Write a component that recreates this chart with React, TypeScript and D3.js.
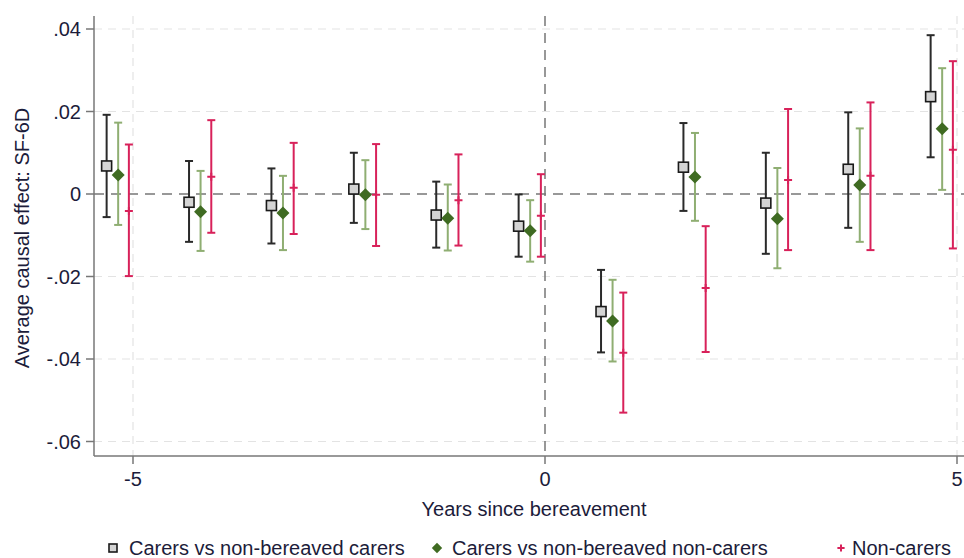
import React from "react";
import * as d3 from "d3";

const years = [-5, -4, -3, -2, -1, 0, 1, 2, 3, 4, 5];
const seriesNames = ["Carers vs non-bereaved carers", "Carers vs non-bereaved non-carers", "Non-carers"];
const offsets = [-0.32, -0.18, -0.05];

const carersEst = [0.0068, -0.002, -0.0028, 0.0012, -0.0051, -0.0078, -0.0285, 0.0065, -0.0022, 0.006, 0.0236];
const carersHi = [0.0192, 0.008, 0.0062, 0.01, 0.003, -0.0001, -0.0184, 0.0172, 0.01, 0.0198, 0.0385];
const carersLo = [-0.0056, -0.0116, -0.012, -0.007, -0.013, -0.0152, -0.0384, -0.0041, -0.0145, -0.0082, 0.0089];

const nonCarersCmpEst = [0.0046, -0.0043, -0.0046, -0.0002, -0.0059, -0.0089, -0.0308, 0.0041, -0.006, 0.0022, 0.0158];
const nonCarersCmpHi = [0.0173, 0.0056, 0.0044, 0.0082, 0.0023, -0.0015, -0.0208, 0.0148, 0.0063, 0.0159, 0.0305];
const nonCarersCmpLo = [-0.0075, -0.0138, -0.0136, -0.0085, -0.0137, -0.0164, -0.0406, -0.0065, -0.018, -0.0116, 0.001];

const nonCarersEst = [-0.0041, 0.0042, 0.0015, -0.0002, -0.0015, -0.0053, -0.0385, -0.0228, 0.0034, 0.0044, 0.0107];
const nonCarersHi = [0.012, 0.0179, 0.0124, 0.0121, 0.0096, 0.0048, -0.0239, -0.0078, 0.0206, 0.0222, 0.0322];
const nonCarersLo = [-0.0199, -0.0094, -0.0097, -0.0126, -0.0125, -0.0152, -0.053, -0.0383, -0.0136, -0.0136, -0.0132];

const yTicks = [0.04, 0.02, 0, -0.02, -0.04, -0.06];
const yTickLabels = [".04", ".02", "0", "-.02", "-.04", "-.06"];
const xTicks = [-5, 0, 5];

const FONT = "'Liberation Sans', Arial, sans-serif";
const TEXT = "#1c1c3a";
const FS = 20;

export default function App() {
  const W = 964, H = 558;
  const left = 94, right = 964, top = 16, bottom = 456;
  const x = d3.scaleLinear().domain([-5, 5]).range([133, 957]);
  const y = d3.scaleLinear().domain([0, 0.02]).range([194, 111.5]);

  const series = [
    { est: carersEst, hi: carersHi, lo: carersLo, ci: "#2a2a2a", mk: "square" },
    { est: nonCarersCmpEst, hi: nonCarersCmpHi, lo: nonCarersCmpLo, ci: "#8fae72", mk: "diamond" },
    { est: nonCarersEst, hi: nonCarersHi, lo: nonCarersLo, ci: "#d8215a", mk: "plus" },
  ];

  const marker = (type: string, cx: number, cy: number, key: string, s = 1) => {
    if (type === "square") {
      const h = 5 * s;
      return <rect key={key} x={cx - h} y={cy - h} width={2 * h} height={2 * h} fill="#d4d4d4" stroke="#1a1a1a" strokeWidth={1.6} />;
    }
    if (type === "diamond") {
      const h = 6.5 * s;
      return <path key={key} d={`M${cx},${cy - h}L${cx + h},${cy}L${cx},${cy + h}L${cx - h},${cy}Z`} fill="#3f6b22" />;
    }
    const h = 4 * s;
    return <path key={key} d={`M${cx - h},${cy}H${cx + h}M${cx},${cy - h}V${cy + h}`} stroke="#d8215a" strokeWidth={2} />;
  };

  return (
    <svg width={W} height={H} style={{ position: "absolute", left: 0, top: 0, background: "#fff" }} fontFamily={FONT}>
      <rect x={0} y={0} width={W} height={H} fill="#fff" />
      {/* grid */}
      {yTicks.filter((t) => t !== 0).map((t) => (
        <line key={"gy" + t} x1={left} x2={right} y1={y(t)} y2={y(t)} stroke="#e3e3e3" strokeDasharray="8,6" strokeWidth={1.2} />
      ))}
      {xTicks.filter((t) => t !== 0).map((t) => (
        <line key={"gx" + t} x1={x(t)} x2={x(t)} y1={top} y2={bottom} stroke="#e3e3e3" strokeDasharray="8,6" strokeWidth={1.2} />
      ))}
      {/* reference lines */}
      <line x1={left} x2={right} y1={y(0)} y2={y(0)} stroke="#777" strokeDasharray="10,7" strokeWidth={1.5} />
      <line x1={x(0)} x2={x(0)} y1={top} y2={bottom} stroke="#777" strokeDasharray="10,7" strokeWidth={1.5} />
      {/* axes */}
      <line x1={left} x2={left} y1={top} y2={bottom} stroke="#777" strokeWidth={1.5} />
      <line x1={left} x2={right} y1={bottom} y2={bottom} stroke="#777" strokeWidth={1.5} />
      {yTicks.map((t, i) => (
        <g key={"yt" + t}>
          <line x1={left - 8} x2={left} y1={y(t)} y2={y(t)} stroke="#777" strokeWidth={1.5} />
          <text x={left - 13} y={y(t)} dy="0.35em" textAnchor="end" fontSize={FS} fill={TEXT}>{yTickLabels[i]}</text>
        </g>
      ))}
      {xTicks.map((t) => (
        <g key={"xt" + t}>
          <line x1={x(t)} x2={x(t)} y1={bottom} y2={bottom + 8} stroke="#777" strokeWidth={1.5} />
          <text x={x(t)} y={486} textAnchor="middle" fontSize={FS} fill={TEXT}>{t}</text>
        </g>
      ))}
      <text x={534} y={516} textAnchor="middle" fontSize={FS} fill={TEXT}>Years since bereavement</text>
      <text transform={`translate(29,${238}) rotate(-90)`} textAnchor="middle" fontSize={FS} fill={TEXT}>Average causal effect: SF-6D</text>
      {/* series */}
      {series.map((s, si) =>
        years.map((yr, i) => {
          const cx = x(yr + offsets[si]);
          return (
            <g key={`s${si}-${i}`}>
              <line x1={cx} x2={cx} y1={y(s.hi[i])} y2={y(s.lo[i])} stroke={s.ci} strokeWidth={2} />
              <line x1={cx - 4} x2={cx + 4} y1={y(s.hi[i])} y2={y(s.hi[i])} stroke={s.ci} strokeWidth={2} />
              <line x1={cx - 4} x2={cx + 4} y1={y(s.lo[i])} y2={y(s.lo[i])} stroke={s.ci} strokeWidth={2} />
              {marker(s.mk, cx, y(s.est[i]), "m")}
            </g>
          );
        })
      )}
      {/* legend */}
      {[
        { mx: 113, tx: 129 },
        { mx: 437, tx: 452 },
        { mx: 841, tx: 852 },
      ].map((l, i) => (
        <g key={"lg" + i}>
          {marker(series[i].mk, l.mx, 548, "lm", i === 2 ? 0.9 : 0.8)}
          <text x={l.tx} y={555} fontSize={FS} fill={TEXT}>{seriesNames[i]}</text>
        </g>
      ))}
    </svg>
  );
}
